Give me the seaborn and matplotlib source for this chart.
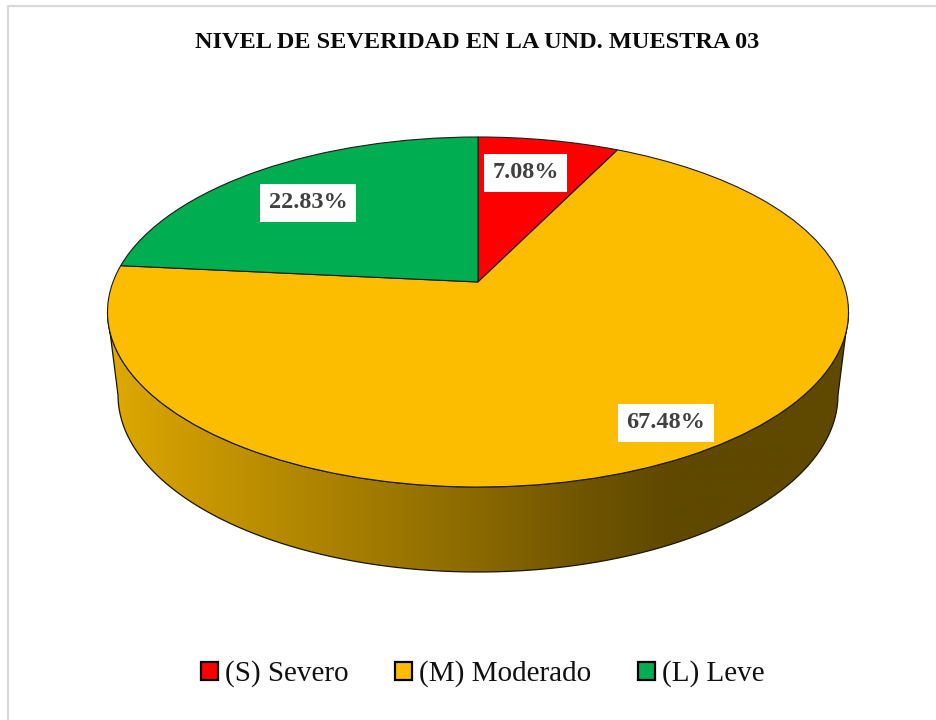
import numpy as np
import matplotlib
matplotlib.use("Agg")
import matplotlib.pyplot as plt
import seaborn as sns
from matplotlib.colors import LinearSegmentedColormap
from matplotlib.patches import PathPatch
from matplotlib.path import Path
from matplotlib.transforms import Transform

# ================================
# DATA
# ================================
title = "NIVEL DE SEVERIDAD EN LA UND. MUESTRA 03"
levels = ["(S) Severo", "(M) Moderado", "(L) Leve"]
shares = [7.08, 67.48, 22.83]
colors = ["#FF0000", "#FCBD00", "#00AD50"]

# ================================
# STYLE
# ================================
sns.set_theme(style="white")
plt.rcParams["font.family"] = ["Liberation Serif", "DejaVu Serif"]

# pie geometry, in pixels of the 936x720 picture
CX, CY = 478, 312         # centre of the top ellipse
RX, RY = 370.5, 175       # half width / half height of the top ellipse
APEX_SHIFT = 30           # the pie centre sits above the ellipse centre
BASE_CY = 395             # lower ellipse of the side wall
BASE_RX, BASE_RY = 360, 177
k = 2 * APEX_SHIFT / (2 * RY)


class Tilt(Transform):
    # perspective view of the unit circle that ax.pie draws
    input_dims = output_dims = 2
    is_separable = False
    has_inverse = False

    def transform_non_affine(self, values):
        u, v = np.asarray(values).T
        d = 1 + k * v
        x = CX + RX * np.sqrt(1 - k ** 2) * u / d
        y = CY - (RY * v + APEX_SHIFT) / d
        return np.column_stack([x, y])


fig = plt.figure(figsize=(9.36, 7.2), dpi=100, facecolor="white")
ax = fig.add_axes([0, 0, 1, 1])

# ================================
# PIE
# ================================
wedges, _ = ax.pie(
    shares,
    colors=colors,
    startangle=90,
    counterclock=False,
    wedgeprops={"edgecolor": "#1c1c1c", "linewidth": 0.8, "zorder": 3},
)

ax.set_aspect("auto")
ax.set_xlim(0, 936)
ax.set_ylim(720, 0)
ax.axis("off")

for w in wedges:
    w.set_transform(Tilt() + ax.transData)

# ================================
# SIDE WALL WITH GRADIENT
# ================================
t = np.linspace(np.pi, 2 * np.pi, 200)
top_edge = np.column_stack([CX + RX * np.cos(t), CY - RY * np.sin(t)])
base_edge = np.column_stack([CX + BASE_RX * np.cos(t), BASE_CY - BASE_RY * np.sin(t)])
wall_pts = np.vstack([top_edge, base_edge[::-1], top_edge[:1]])
wall = PathPatch(Path(wall_pts), facecolor="none", edgecolor="#1c1500",
                 linewidth=0.9, zorder=2)
ax.add_patch(wall)

wall_cmap = LinearSegmentedColormap.from_list(
    "wall",
    [(0.0, "#DEA900"), (0.12, "#C99800"), (0.37, "#9F7900"),
     (0.50, "#8A6900"), (0.64, "#705500"), (0.76, "#5F4800"), (1.0, "#5F4800")],
)
grad = ax.imshow(
    np.linspace(0, 1, 256).reshape(1, -1),
    cmap=wall_cmap,
    extent=(CX - RX, CX + RX, 600, 300),
    aspect="auto",
    zorder=1,
)
grad.set_clip_path(wall)
ax.set_xlim(0, 936)
ax.set_ylim(720, 0)

# ================================
# LABELS
# ================================
label_pos = [(525.5, 173), (666, 423), (308, 203)]  # same order as shares
for share, (lx, ly) in zip(shares, label_pos):
    ax.text(
        lx, ly, f"{share:.2f}%",
        ha="center", va="center",
        fontsize=17.5, fontweight="bold", color="#404040", zorder=5,
        bbox={"boxstyle": "square,pad=0.34", "facecolor": "white", "edgecolor": "none"},
    )

ax.text(477, 43, title, ha="center", va="center",
        fontsize=17.5, fontweight="bold", color="#0a0a0a")

# chart frame: only the top and left edges are inside the picture
ax.plot([8, 8, 936], [720, 6, 6], color="#D9D9D9", linewidth=1.6, zorder=0)

# ================================
# LEGEND
# ================================
leg = ax.legend(
    wedges, levels,
    loc="center",
    bbox_to_anchor=(482.5 / 936, 1 - 674 / 720),
    ncol=3,
    frameon=False,
    fontsize=21,
    handlelength=0.58,
    handleheight=0.58,
    handletextpad=0.24,
    columnspacing=1.6,
    labelcolor="#111111",
)
for h in leg.legend_handles:
    h.set_edgecolor("black")
    h.set_linewidth(1.6)

fig.savefig("out.png", dpi=100)
